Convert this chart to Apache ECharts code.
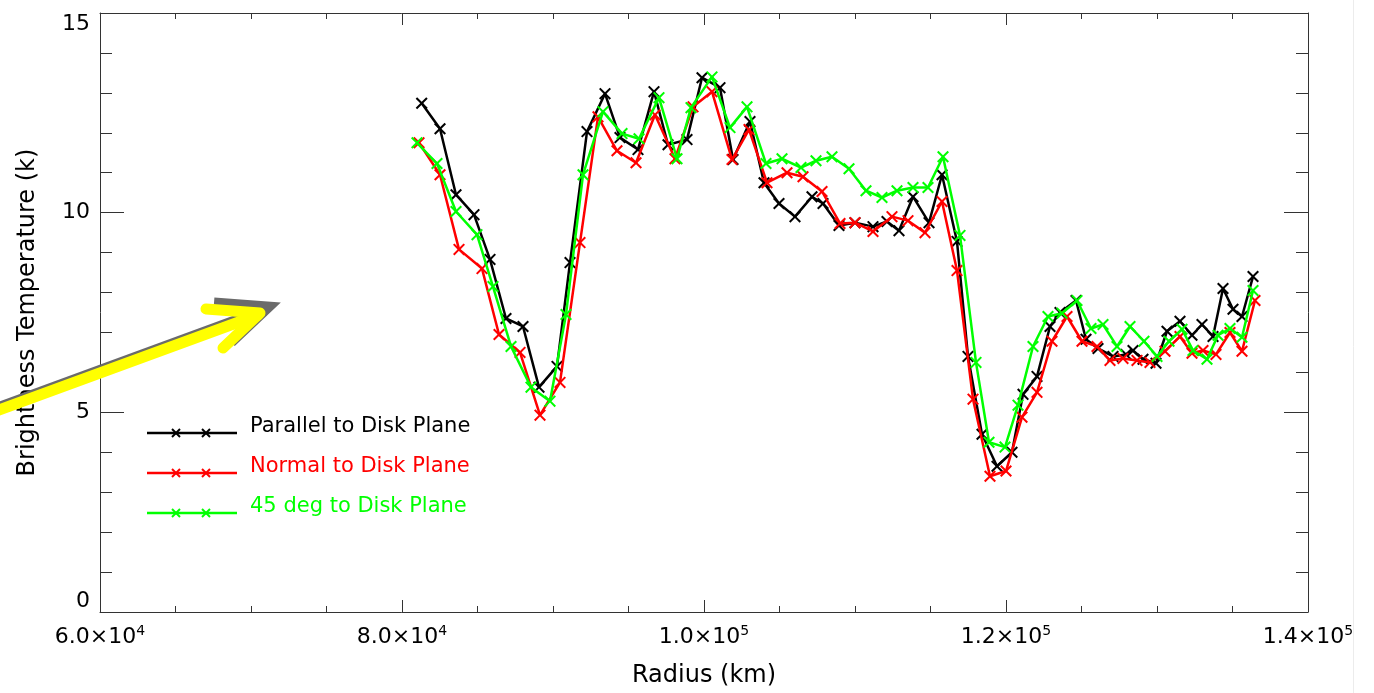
<!DOCTYPE html>
<html>
<head>
<meta charset="utf-8">
<script src="https://cdn.jsdelivr.net/npm/echarts@6/dist/echarts.min.js"></script>
<style>
  html, body { margin: 0; padding: 0; background: #ffffff; }
  #chart { width: 1374px; height: 693px; }
</style>
</head>
<body>
<div id="chart"></div>
<script>
// Brightness temperature profiles across the disk, three viewing geometries.

// Parallel to disk plane
const parallelRadius = [81304, 82517, 83576, 84768, 85828, 86887, 88013, 89073, 90265, 91126,
  92252, 93444, 94437, 95629, 96689, 97616, 98874, 99868, 101060, 101921,
  103046, 103974, 104967, 106026, 107152, 107881, 108940, 110000, 111192, 112119,
  112914, 113841, 114901, 115762, 116755, 117483, 118411, 119404, 120397, 121126,
  122053, 122914, 123576, 124636, 125298, 126093, 127086, 127947, 128411, 129073,
  129934, 130662, 131523, 132318, 132980, 133709, 134371, 135033, 135629, 136358];
const parallelTemp = [12.74, 12.10, 10.45, 9.95, 8.83, 7.35, 7.15, 5.63, 6.15, 8.75,
  12.03, 12.98, 11.88, 11.58, 13.03, 11.70, 11.83, 13.38, 13.13, 11.33,
  12.28, 10.75, 10.23, 9.90, 10.40, 10.23, 9.68, 9.75, 9.65, 9.78,
  9.55, 10.40, 9.75, 10.95, 9.28, 6.40, 4.45, 3.65, 4.00, 5.45,
  5.90, 7.15, 7.50, 7.80, 6.83, 6.60, 6.40, 6.45, 6.55, 6.33,
  6.23, 7.03, 7.28, 6.93, 7.20, 6.90, 8.10, 7.58, 7.40, 8.40];

// Normal to disk plane
const normalRadius = [81126, 82517, 83775, 85298, 86424, 87815, 89139, 90464, 91788, 92980,
  94238, 95497, 96755, 98079, 99272, 100530, 101855, 102980, 104172, 105497,
  106556, 107815, 109007, 110000, 111192, 112450, 113510, 114636, 115762, 116755,
  117815, 118940, 120000, 121060, 122053, 123046, 124040, 125033, 126026, 126887,
  127748, 128675, 129536, 130530, 131523, 132318, 133046, 133907, 134834, 135629,
  136490];
const normalTemp = [11.75, 10.95, 9.08, 8.60, 6.95, 6.50, 4.93, 5.75, 9.25, 12.40,
  11.55, 11.25, 12.45, 11.35, 12.65, 13.03, 11.33, 12.08, 10.75, 11.00,
  10.90, 10.53, 9.73, 9.75, 9.53, 9.90, 9.80, 9.50, 10.28, 8.55,
  5.33, 3.40, 3.53, 4.88, 5.50, 6.78, 7.40, 6.78, 6.65, 6.30,
  6.35, 6.30, 6.25, 6.53, 6.90, 6.48, 6.55, 6.45, 7.00, 6.53,
  7.80];

// 45 deg to disk plane
const obliqueRadius = [80993, 82318, 83576, 84967, 86026, 87219, 88543, 89801, 90861, 91987,
  93311, 94570, 95696, 97020, 98212, 99139, 100530, 101722, 102848, 104106,
  105166, 106424, 107417, 108477, 109603, 110728, 111788, 112781, 113841, 114834,
  115828, 116954, 118013, 118874, 119934, 120795, 121788, 122781, 123709, 124702,
  125629, 126424, 127351, 128212, 129139, 130000, 130795, 131656, 132384, 133311,
  134040, 134834, 135629, 136358];
const obliqueTemp = [11.75, 11.23, 10.03, 9.45, 8.15, 6.65, 5.63, 5.28, 7.45, 10.95,
  12.53, 11.98, 11.85, 12.88, 11.35, 12.63, 13.40, 12.13, 12.65, 11.23,
  11.35, 11.13, 11.30, 11.40, 11.10, 10.55, 10.38, 10.55, 10.63, 10.63,
  11.40, 9.43, 6.25, 4.25, 4.13, 5.18, 6.65, 7.40, 7.48, 7.80,
  7.10, 7.20, 6.65, 7.15, 6.78, 6.40, 6.78, 7.08, 6.55, 6.33,
  6.93, 7.10, 6.88, 8.05];

const seriesNames = ['Parallel to Disk Plane', 'Normal to Disk Plane', '45 deg to Disk Plane'];
const seriesColors = ['#000000', '#ff0000', '#00ff00'];

// Axis ranges and ticks
const radiusMin = 60000, radiusMax = 140000, radiusStep = 20000;
const tempMin = 0, tempMax = 15, tempStep = 5;

const FONT = 'DejaVu Sans';
const CROSS = 'path://M0,1.2L1.2,0L5,3.8L8.8,0L10,1.2L6.2,5L10,8.8L8.8,10L5,6.2L1.2,10L0,8.8L3.8,5Z';

function pairs(xs, ys) { return xs.map((x, i) => [x, ys[i]]); }
const seriesData = [
  pairs(parallelRadius, parallelTemp),
  pairs(normalRadius, normalTemp),
  pairs(obliqueRadius, obliqueTemp)
];

function sciLabel(v) {
  const e = Math.floor(Math.log10(v) + 1e-9);
  const m = v / Math.pow(10, e);
  return '{m|' + m.toFixed(1) + '×10}{e|' + e + '}';
}

const axisLineStyle = { color: '#333333', width: 1 };

const chart = echarts.init(document.getElementById('chart'), null, { renderer: 'canvas' });

// Hand-drawn key: a short line with two crosses per entry
const legendX0 = 147, legendX1 = 237, legendTextX = 250;
const legendRows = [433, 473, 513];
const legendGraphics = [];
legendRows.forEach((y, i) => {
  const c = seriesColors[i];
  legendGraphics.push({ type: 'line', z: 60, shape: { x1: legendX0, y1: y, x2: legendX1, y2: y }, style: { stroke: c, lineWidth: 2.5 } });
  [176, 206].forEach(mx => {
    legendGraphics.push({ type: 'line', z: 60, shape: { x1: mx - 4, y1: y - 4, x2: mx + 4, y2: y + 4 }, style: { stroke: c, lineWidth: 2 } });
    legendGraphics.push({ type: 'line', z: 60, shape: { x1: mx - 4, y1: y + 4, x2: mx + 4, y2: y - 4 }, style: { stroke: c, lineWidth: 2 } });
  });
  legendGraphics.push({ type: 'text', z: 60, x: legendTextX, y: y - 6,
    style: { text: seriesNames[i], fill: c, font: '21px "' + FONT + '"', textVerticalAlign: 'middle', textAlign: 'left' } });
});

// Pointer arrow with a grey drop shadow
const arrowPts = [[-20, 417], [258, 315]];
const headPts = [[206, 309], [260, 313], [223, 348]];
function shift(pts, dx, dy) { return pts.map(p => [p[0] + dx, p[1] + dy]); }
const arrowGraphics = [
  { type: 'polyline', z: 70, shape: { points: shift(arrowPts, 7, -5) }, style: { stroke: '#6b6b6b', lineWidth: 11, lineCap: 'butt', fill: null } },
  { type: 'polyline', z: 70, shape: { points: shift(headPts, 8, -6) }, style: { stroke: '#6b6b6b', lineWidth: 11, lineCap: 'butt', lineJoin: 'miter', fill: null } },
  { type: 'polyline', z: 71, shape: { points: arrowPts }, style: { stroke: '#ffff00', lineWidth: 11, lineCap: 'round', fill: null } },
  { type: 'polyline', z: 71, shape: { points: headPts }, style: { stroke: '#ffff00', lineWidth: 11, lineCap: 'round', lineJoin: 'round', fill: null } }
];

// Blank strip along the right edge
const edgeGraphics = [
  { type: 'rect', z: 80, shape: { x: 1353, y: 0, width: 21, height: 693 }, style: { fill: '#ffffff' } },
  { type: 'line', z: 81, shape: { x1: 1353.5, y1: 0, x2: 1353.5, y2: 693 }, style: { stroke: '#ececec', lineWidth: 1 } }
];

const option = {
  animation: false,
  backgroundColor: '#ffffff',
  textStyle: { fontFamily: FONT },
  grid: { left: 100, right: 66, top: 13, bottom: 80, containLabel: false },
  xAxis: [
    {
      type: 'value', position: 'bottom', min: radiusMin, max: radiusMax, interval: radiusStep,
      name: 'Radius (km)', nameLocation: 'middle', nameGap: 52,
      nameTextStyle: { fontFamily: FONT, fontSize: 24, color: '#000' },
      axisLine: { show: true, onZero: false, lineStyle: axisLineStyle },
      axisTick: { show: true, inside: true, length: 12, lineStyle: axisLineStyle },
      minorTick: { show: true, splitNumber: 4, length: 6, lineStyle: axisLineStyle },
      splitLine: { show: false },
      axisLabel: {
        show: true, margin: 12, color: '#000', formatter: sciLabel,
        rich: {
          m: { fontFamily: FONT, fontSize: 22, color: '#000', lineHeight: 26 },
          e: { fontFamily: FONT, fontSize: 14, color: '#000', verticalAlign: 'top', lineHeight: 26 }
        }
      }
    },
    {
      type: 'value', position: 'top', min: radiusMin, max: radiusMax, interval: radiusStep,
      axisLine: { show: true, onZero: false, lineStyle: axisLineStyle },
      axisTick: { show: true, inside: true, length: 12, lineStyle: axisLineStyle },
      minorTick: { show: true, splitNumber: 4, length: 6, lineStyle: axisLineStyle },
      splitLine: { show: false },
      axisLabel: { show: false }
    }
  ],
  yAxis: [
    {
      type: 'value', position: 'left', min: tempMin, max: tempMax, interval: tempStep,
      name: 'Brightness Temperature (k)', nameLocation: 'middle', nameGap: 60,
      nameTextStyle: { fontFamily: FONT, fontSize: 24, color: '#000' },
      axisLine: { show: true, onZero: false, lineStyle: axisLineStyle },
      axisTick: { show: true, inside: true, length: 24, lineStyle: axisLineStyle },
      minorTick: { show: true, splitNumber: 5, length: 12, lineStyle: axisLineStyle },
      splitLine: { show: false },
      axisLabel: {
        show: true, margin: 10, color: '#000', fontFamily: FONT, fontSize: 22,
        verticalAlignMinLabel: 'bottom', verticalAlignMaxLabel: 'top'
      }
    },
    {
      type: 'value', position: 'right', min: tempMin, max: tempMax, interval: tempStep,
      axisLine: { show: true, onZero: false, lineStyle: axisLineStyle },
      axisTick: { show: true, inside: true, length: 24, lineStyle: axisLineStyle },
      minorTick: { show: true, splitNumber: 5, length: 12, lineStyle: axisLineStyle },
      splitLine: { show: false },
      axisLabel: { show: false }
    }
  ],
  series: seriesData.map((d, i) => ({
    name: seriesNames[i],
    type: 'line',
    xAxisIndex: 0,
    yAxisIndex: 0,
    data: d,
    symbol: CROSS,
    symbolSize: 12,
    showAllSymbol: true,
    lineStyle: { color: seriesColors[i], width: 2.5 },
    itemStyle: { color: seriesColors[i], borderWidth: 0 },
    z: 2 + i
  })),
  graphic: { elements: legendGraphics.concat(arrowGraphics, edgeGraphics) }
};

chart.setOption(option);
</script>
</body>
</html>
